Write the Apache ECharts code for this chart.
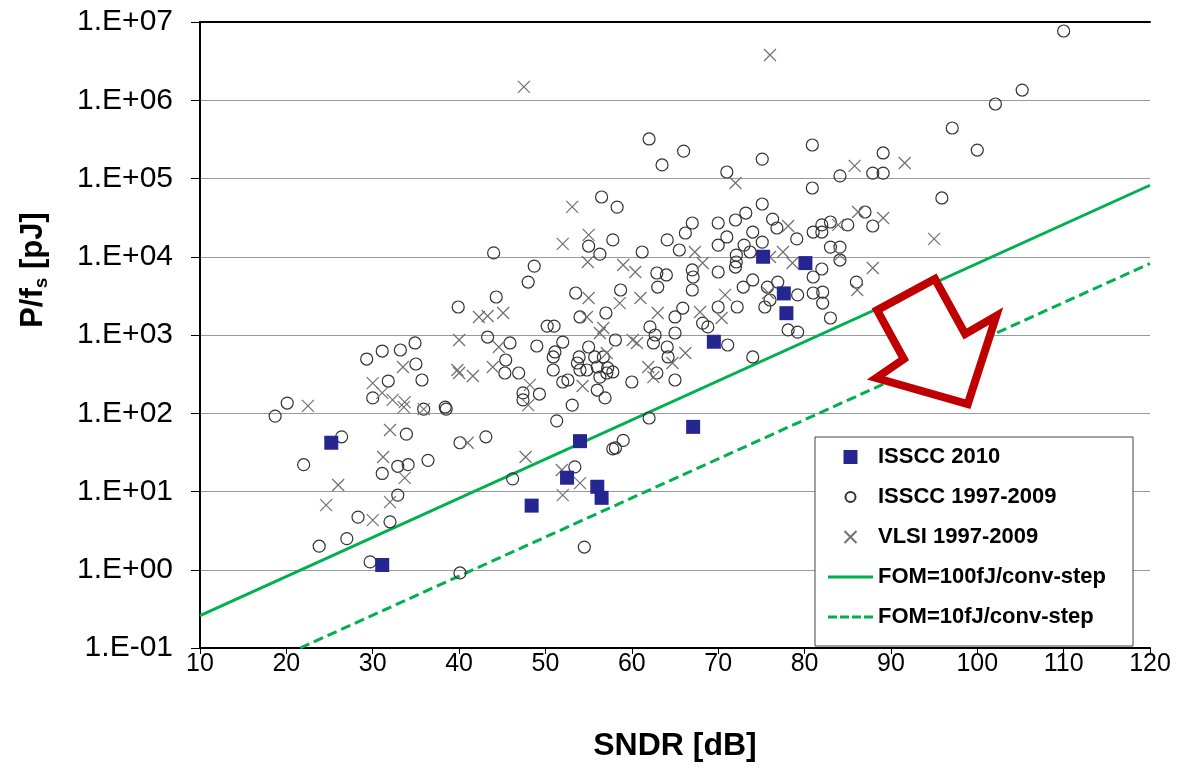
<!DOCTYPE html>
<html><head><meta charset="utf-8">
<script src="https://cdn.jsdelivr.net/npm/echarts@6/dist/echarts.min.js"></script>
<style>html,body{margin:0;padding:0;background:#fff}#c{width:1180px;height:769px}</style>
</head><body><div id="c"></div>
<script>
// ---- data (SNDR in dB, P/fs in pJ) ----
const sndr2010 = [25.2, 31.1, 48.4, 54.0, 52.5, 56.0, 56.5, 67.1, 69.5, 75.2, 77.6, 77.9, 80.1];
const pfs2010  = [42, 1.15, 6.6, 44, 15, 11.5, 8.3, 67, 820, 10000, 3400, 1900, 8300];

const sndrIsscc = [34.9,31.1,33.2,29.3,35.0,35.7,31.8,30.0,35.9,38.5,
 18.7,20.1,33.9,26.4,22.0,31.1,32.9,34.1,36.4,40.1,
 32.9,28.3,32.0,23.8,27.0,29.7,40.1,39.9,44.0,48.7,
 48.0,56.5,58.3,55.0,56.3,57.8,44.3,53.5,50.2,51.0,
 54.0,57.0,58.1,43.3,45.9,49.0,52.0,51.1,50.9,55.0,
 53.9,53.7,54.0,54.8,55.7,56.7,56.0,57.2,57.8,57.1,
 56.3,45.4,45.3,50.9,46.9,52.0,52.6,56.0,47.4,47.4,
 49.3,56.9,38.4,53.1,51.3,43.1,57.8,46.2,53.4,54.5,
 75.1,73.2,72.0,70.0,67.0,76.3,76.8,74.0,66.2,71.0,
 64.1,70.0,75.1,73.0,61.2,65.5,72.1,72.1,73.7,62.9,
 64.0,67.0,67.1,70.0,72.0,63.0,67.0,74.0,72.9,58.7,
 70.0,72.2,65.9,65.0,68.2,68.8,75.7,76.0,75.4,62.1,
 62.7,65.0,62.5,64.1,71.1,64.2,74.0,62.9,60.0,65.0,
 62.0,58.1,59.0,62.0,63.5,66.0,75.1,71.0,80.9,80.9,
 89.1,84.1,87.9,89.1,81.0,82.0,82.0,83.0,85.0,87.0,
 87.9,79.1,83.0,84.1,84.1,81.0,82.0,86.0,76.9,79.2,
 81.0,82.1,82.1,83.0,78.1,79.2,95.9,100.0,97.1,102.1,
 105.2,110.0];
const pfsIsscc = [791,624,643,493,426,266,258,157,113,113,
 92,135,54,50,22,17,21,22,25,42,
 9.0,4.7,4.1,2.0,2.5,1.26,0.91,2280,11200,7600,
 4750,58000,43000,13700,10800,16400,3060,3440,1300,1300,
 1700,1910,863,942,791,723,813,607,524,702,
 524,439,357,357,524,524,390,379,337,327,
 290,479,327,357,327,251,266,198,182,148,
 176,157,120,127,80,50,35,14.5,20.6,1.95,
 47200,36200,29500,27000,27000,30300,23300,20700,20100,17900,
 16400,14100,15400,14100,11500,12200,10500,8570,11500,6200,
 5850,6780,5510,6380,7390,4100,3760,5050,4100,3760,
 2280,2280,2210,1700,1420,1270,4100,2800,2280,1270,
 1000,1060,791,702,745,524,524,327,251,266,
 87,36,45,320000,149000,224000,177000,121000,268000,75600,
 212000,108000,117000,117000,20700,20700,25500,27800,25500,37300,
 24700,16900,13300,13300,9080,5510,6970,4750,4750,3250,
 3440,3540,2560,1650,1160,1090,56400,231000,442000,896000,
 1350000,7670000];

const sndrVlsi = [33.5,30.0,31.1,32.3,33.7,33.6,35.9,22.5,32.0,31.2,
 33.7,26.0,24.6,32.0,30.0,39.8,40.0,55.0,52.0,54.9,
 53.1,55.0,42.3,43.3,45.1,54.8,56.7,56.3,44.6,43.9,
 40.0,41.6,48.2,54.3,48.0,41.0,47.7,51.9,54.0,52.0,
 72.0,67.3,59.0,60.4,68.2,61.0,63.0,58.6,70.8,67.9,
 70.4,60.1,60.6,66.2,57.1,61.9,62.5,64.7,47.5,76.0,
 85.8,91.6,78.1,83.9,86.2,89.1,84.1,77.5,78.6,76.0,
 95.0,87.9,86.1,75.8];
const pfsVlsi = [390,243,182,148,139,120,113,124,61,27.6,
 14.9,12.1,6.7,7.3,4.3,357,863,19000,14600,8570,
 43300,2970,1700,1750,1910,1700,1230,1060,702,390,
 327,299,230,223,127,42,27.6,18.8,12.8,9.0,
 87600,11500,7850,6380,8320,2970,1910,2560,3250,1970,
 1650,863,791,589,589,390,290,439,1480000,3790000,
 145000,158000,24700,25500,37300,31300,10500,11500,8320,9930,
 16900,7180,3760,3440];

// FOM lines: end points
const fom100Sndr = [10, 120];
const fom100Pfs  = [0.26, 82000];
const fom10Sndr  = [21.6, 120];
const fom10Pfs   = [0.1, 8200];

// red arrow outline (data coordinates)
const arrowSndr = [95.1, 98.6, 102.2, 98.9, 88.3, 91.5, 88.4];
const arrowPfs  = [5200, 1030, 1750, 131, 282, 493, 2080];

const yTickExp = [-1,0,1,2,3,4,5,6,7];

const FONT = 'Arial, "Liberation Sans", sans-serif';
const zip = (a, b) => a.map((v, i) => [v, b[i]]);
function yFmt(v) {
  const e = Math.round(Math.log10(v));
  return '1.E' + (e < 0 ? '-' : '+') + String(Math.abs(e)).padStart(2, '0');
}
const crossPath = 'path://M0,0L10,10M10,0L0,10';
const squarePath = 'path://M0,0H10V10H0Z';
const legendCircle = 'path://M-7,-7M7,7M5,0A5,5,0,1,1,-5,0A5,5,0,1,1,5,0Z';
const legendCross = 'path://M-7,-7M7,7M-6,-6L6,6M6,-6L-6,6';
const legendSolid = 'path://M0,0H45V3H0Z';
const legendDash = 'path://M0,0H9V3H0Z M12,0H21V3H12Z M24,0H33V3H24Z M36,0H45V3H36Z';

const chart = echarts.init(document.getElementById('c'), null, {renderer: 'canvas'});
const option = {
  animation: false,
  backgroundColor: '#fff',
  grid: {left: 200, right: 30, top: 22, bottom: 121, containLabel: false},
  legend: {
    orient: 'vertical', left: 828, top: 446, padding: 0, itemGap: 18,
    itemWidth: 45, itemHeight: 14, z: 20, selectedMode: false,
    textStyle: {fontSize: 22, fontWeight: 'bold', color: '#000', fontFamily: FONT},
    data: [
      {name: 'ISSCC 2010', icon: squarePath},
      {name: 'ISSCC 1997-2009', icon: legendCircle},
      {name: 'VLSI 1997-2009', icon: legendCross},
      {name: 'FOM=100fJ/conv-step', icon: legendSolid},
      {name: 'FOM=10fJ/conv-step', icon: legendDash}
    ]
  },
  xAxis: [{
    type: 'value', min: 10, max: 120, interval: 10,
    axisLine: {show: true, onZero: false, lineStyle: {color: '#000', width: 2}},
    axisTick: {show: true, length: 6, lineStyle: {color: '#000'}},
    axisLabel: {fontSize: 25, color: '#000', fontFamily: FONT, margin: 4},
    splitLine: {show: false},
    name: 'SNDR [dB]', nameLocation: 'middle', nameGap: 82,
    nameTextStyle: {fontSize: 32, fontWeight: 'bold', color: '#000', fontFamily: FONT}
  }, {
    type: 'value', position: 'top', min: 10, max: 120, interval: 10,
    axisLine: {show: true, onZero: false, lineStyle: {color: '#000', width: 2}},
    axisTick: {show: false}, axisLabel: {show: false}, splitLine: {show: false}
  }],
  yAxis: {
    type: 'log', logBase: 10, min: Math.pow(10, yTickExp[0]), max: Math.pow(10, yTickExp[yTickExp.length - 1]),
    splitNumber: 8,
    axisLine: {show: true, lineStyle: {color: '#000', width: 2}},
    axisTick: {show: true, length: 9, lineStyle: {color: '#000'}},
    axisLabel: {formatter: yFmt, fontSize: 30, color: '#000', fontFamily: FONT, margin: 27, showMinLabel: true, showMaxLabel: true},
    splitLine: {show: true, lineStyle: {color: '#999', width: 1}},
    minorTick: {show: false}, minorSplitLine: {show: false}
  },
  series: [
    {name: 'FOM=100fJ/conv-step', type: 'line', data: zip(fom100Sndr, fom100Pfs), symbol: 'none',
     lineStyle: {color: '#00B050', width: 3}, itemStyle: {color: '#00B050'}, z: 3, clip: true, silent: true},
    {name: 'FOM=10fJ/conv-step', type: 'line', data: zip(fom10Sndr, fom10Pfs), symbol: 'none',
     lineStyle: {color: '#00B050', width: 3, type: [10, 5]}, itemStyle: {color: '#00B050'}, z: 3, clip: true, silent: true},
    {name: 'ISSCC 1997-2009', type: 'scatter', data: zip(sndrIsscc, pfsIsscc), symbol: 'circle', symbolSize: 12,
     itemStyle: {color: 'rgba(0,0,0,0)', borderColor: '#333', borderWidth: 1.2, opacity: 1}, z: 4},
    {name: 'VLSI 1997-2009', type: 'scatter', data: zip(sndrVlsi, pfsVlsi), symbol: crossPath, symbolSize: 12,
     itemStyle: {color: 'rgba(0,0,0,0)', borderColor: '#707070', borderWidth: 1.2, opacity: 1}, z: 4},
    {name: 'ISSCC 2010', type: 'scatter', data: zip(sndr2010, pfs2010), symbol: squarePath, symbolSize: 14,
     itemStyle: {color: '#262690', opacity: 1}, z: 5}
  ]
};
chart.setOption(option);

const arrowPts = arrowSndr.map((s, i) => chart.convertToPixel({xAxisIndex: 0, yAxisIndex: 0}, [s, arrowPfs[i]]));
chart.setOption({
  graphic: [
    {type: 'rect', z: 15, shape: {x: 815, y: 437, width: 318, height: 209},
     style: {fill: '#fff', stroke: '#444', lineWidth: 1}},
    {type: 'polygon', z: 10, shape: {points: arrowPts},
     style: {fill: '#fff', stroke: '#C00000', lineWidth: 8, lineJoin: 'miter'}},
    {type: 'text', z: 15, x: 33, y: 270, rotation: Math.PI / 2,
     style: {text: '{a|P/f}{b|s}{a| [pJ]}', align: 'center', verticalAlign: 'middle',
       rich: {
         a: {fontSize: 31, fontWeight: 'bold', fontFamily: FONT, fill: '#000', lineHeight: 36},
         b: {fontSize: 19, fontWeight: 'bold', fontFamily: FONT, fill: '#000', lineHeight: 36, verticalAlign: 'bottom'}
       }}}
  ]
});
</script></body></html>
